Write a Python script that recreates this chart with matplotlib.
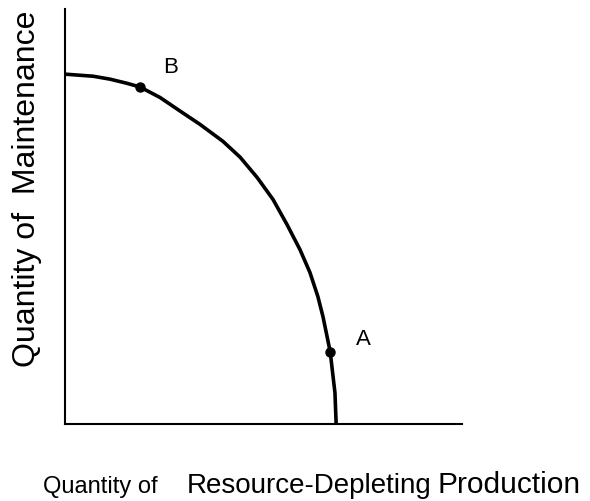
import matplotlib.pyplot as plt
import numpy as np

# production possibility frontier (axis units 0-10)
curve_x = [0.0, 0.71, 1.13, 1.56, 1.89, 2.39, 2.90, 3.40, 3.98, 4.41, 4.84,
           5.24, 5.59, 5.92, 6.17, 6.37, 6.50, 6.68, 6.80, 6.83]
curve_y = [8.43, 8.38, 8.31, 8.21, 8.12, 7.87, 7.54, 7.22, 6.81, 6.43, 5.94,
           5.41, 4.81, 4.20, 3.65, 3.07, 2.58, 1.74, 0.75, 0.0]

point_names = ["B", "A"]
point_x = [1.89, 6.68]
point_y = [8.12, 1.74]

W, H = 590, 501
fig = plt.figure(figsize=(W/100, H/100), dpi=100)
ax = fig.add_axes([65/W, (H-424)/H, (462-65)/W, (424-9)/H])

ax.plot(curve_x, curve_y, color="black", linewidth=2.6, solid_joinstyle="round")
ax.plot(point_x, point_y, "o", color="black", markersize=6.5)

ax.text(point_x[0]+0.76, point_y[0]+0.46, point_names[0], fontsize=16,
        family="Liberation Sans", ha="center", va="center")
ax.text(point_x[1]+0.83, point_y[1]+0.3, point_names[1], fontsize=16,
        family="Liberation Sans", ha="center", va="center")

ax.set_xlim(0, 10)
ax.set_ylim(0, 10)
ax.set_xticks([])
ax.set_yticks([])
for s in ["top", "right"]:
    ax.spines[s].set_visible(False)
for s in ["left", "bottom"]:
    ax.spines[s].set_linewidth(1.5)

def px(x, y):
    return x/W, 1 - y/H

fig.text(*px(43, 493), "Quantity of", fontsize=17, family="Liberation Sans",
         ha="left", va="baseline")
fig.text(*px(187, 493), "Resource-Depleting", fontsize=20, family="Liberation Sans",
         ha="left", va="baseline")
fig.text(*px(438, 493), "Production", fontsize=21.5, family="Liberation Sans",
         ha="left", va="baseline")
fig.text(*px(27, 189), "Quantity of  Maintenance", fontsize=23, family="Liberation Sans",
         rotation=90, ha="center", va="center")

fig.savefig("out.png", dpi=100)
